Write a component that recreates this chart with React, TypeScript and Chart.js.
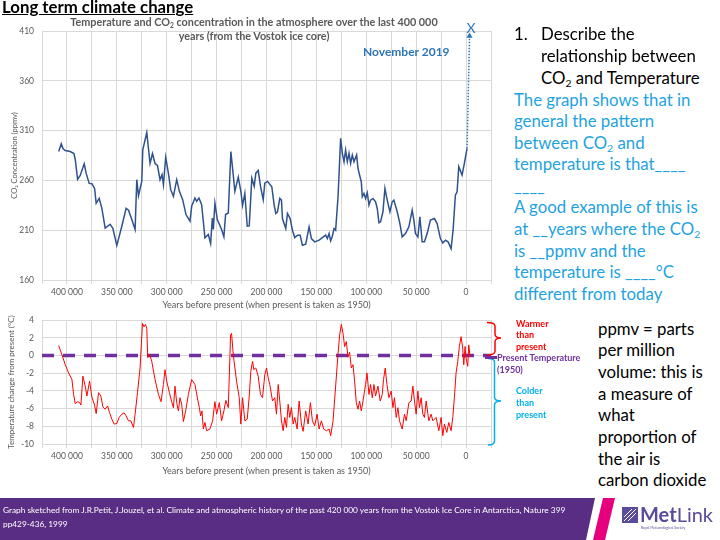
import React, { useEffect, useRef } from "react";
import { Chart, registerables } from "chart.js";
Chart.register(...registerables);

// ---------- DATA ----------
// CO2 record (thousand years before present, ppmv)
const co2Kyr = [408.3, 405.7, 404, 401.7, 396.7, 393, 391.7, 389.3, 386.7, 382.7, 380.7, 377.7, 375, 372.3, 370.7, 367.7, 365, 361.7, 356.7, 354, 350, 345, 340.7, 338.3, 335, 331.7, 330, 328.3, 325, 324, 320, 316.7, 314.3, 311.7, 309.3, 306.7, 304.7, 303.3, 301, 298.3, 296, 293.3, 290, 287.3, 284, 280.7, 276.7, 275, 271.7, 270, 267.7, 265, 261.7, 258.3, 256, 254.3, 253.3, 251.7, 249.3, 245, 242.7, 241, 238.3, 235.7, 231.7, 228.3, 225.7, 224, 221.7, 219.3, 217.3, 214.7, 212.3, 210.7, 208.3, 206, 203.3, 201.7, 199, 194.7, 192.3, 190.7, 189, 186.7, 185, 184, 180.7, 179, 176.3, 174, 171.7, 169, 166.3, 164, 160.7, 157.3, 155, 151.7, 147.3, 144, 140.7, 139, 137.3, 135.7, 134, 132.3, 130.7, 128.3, 125.7, 124, 122.3, 120.7, 119, 117.3, 115.7, 114, 112.3, 109.7, 108.3, 106.3, 105, 104, 102.3, 100.7, 99, 97.3, 95.7, 93.3, 90.7, 89, 87.3, 85.7, 83.3, 81.3, 79, 76.3, 74, 72.3, 69, 66.3, 64, 60.7, 57.3, 54, 52.3, 50.7, 48.3, 46.3, 44, 41.7, 39, 35.7, 31.7, 29, 25.7, 23.3, 20.7, 18, 15, 13, 10.7, 9, 7.3, 4, 1.7, -1];
const co2Ppmv = [289, 296.7, 292, 290, 289, 287, 281, 261, 265, 276.7, 267, 257, 256.7, 252, 237, 242, 232, 212, 216, 212, 194.7, 214, 232, 230, 220.7, 210.7, 260.7, 244.7, 259, 290.7, 308, 277, 287, 277, 275, 260.7, 265.7, 255.7, 283.3, 267, 250.7, 244, 260.7, 249, 240.7, 225.7, 219, 234, 242.3, 239, 242.3, 235.7, 202.3, 205.7, 196.7, 222.3, 210.7, 237.3, 220.7, 210.7, 203.3, 225.7, 227.3, 289, 249, 263.3, 249, 235, 247, 214, 214.3, 262.3, 254, 267.3, 270, 254, 240.7, 257.3, 259, 253.6, 235.2, 226.8, 228.5, 241.9, 240.2, 221.7, 211.7, 226.8, 221.7, 210, 202.6, 205, 205, 194.9, 195.9, 213.4, 201.6, 198.3, 200, 202.6, 205, 201.6, 206.6, 199.3, 204, 211.7, 210, 243.6, 302.3, 287.2, 278.8, 290.5, 278.8, 287.2, 277.1, 285.5, 278.8, 285.5, 272.1, 263.7, 258.7, 243.6, 246.9, 241.9, 247.6, 235.2, 240.2, 241.9, 238.5, 231.8, 217.4, 218.4, 228.5, 251.9, 240.2, 228.5, 238.5, 240.2, 228.5, 216.7, 203.3, 206.6, 213.4, 230.1, 220.1, 206.6, 203.3, 223.4, 198.3, 198.3, 206.6, 220.1, 221.7, 216.7, 201.6, 197.2, 199.9, 198.3, 191.5, 210, 245.2, 248.6, 273.8, 265.4, 277.1, 292.2];
// November 2019 extension
const arrowKyr = [-1, -3.5];
const arrowPpmv = [292.2, 405];

// Temperature change record (thousand years before present, °C)
const tempKyr = [408.3, 405, 401.7, 398.3, 395, 393.3, 391.7, 389.3, 387.3, 386, 384, 381.7, 380, 377.3, 375, 372.3, 370.7, 368.3, 366, 364, 361.7, 359.3, 357.3, 355, 352.7, 350, 347.7, 345, 342.7, 340.7, 338.3, 336, 333.3, 331.7, 329.3, 326.7, 324.3, 322.7, 321.3, 320, 319, 317.3, 315, 311.7, 308.3, 305.7, 303.3, 301.7, 300, 297.3, 295, 293.3, 291.7, 290, 288.3, 286.7, 285, 283.3, 281, 278.3, 275, 271.7, 269.3, 267.3, 266, 264.7, 263.3, 261.7, 260, 256.7, 254, 251.7, 250, 247.3, 245, 242.7, 240.7, 238.3, 236, 235, 233.3, 230, 227.3, 225.7, 224, 221.7, 219.3, 217.3, 215.7, 214, 212.7, 210.7, 208.3, 206, 204, 201.7, 200, 198.3, 196.7, 194, 191.7, 190, 188.3, 186.7, 185, 183.3, 181.7, 180, 178.3, 176.7, 175, 173.3, 171.7, 169.3, 167.3, 165, 163.3, 160.7, 158.3, 156, 154, 151.7, 149.3, 147.3, 145, 142.7, 140, 137.3, 135.7, 133.3, 130.7, 128.3, 126.7, 125, 123.3, 121.7, 120, 118.3, 116.7, 115, 113.3, 111.7, 110, 108.3, 106.7, 105, 103.3, 100.7, 99.3, 97.3, 95.7, 94, 92.3, 90.7, 88.3, 86, 84, 82.7, 81, 79.3, 77.3, 75, 73.3, 71.7, 70, 68.3, 66.7, 64, 61.7, 60, 57.3, 55, 53.3, 51.7, 50, 48.3, 46.7, 45, 43.3, 41.7, 40, 37.3, 35, 33.3, 30, 27.3, 25, 23.3, 21.7, 19.3, 17.3, 15, 13.3, 11.7, 10, 8.3, 6.7, 5, 3.3, 2.3, 1, 0, -1.7, -2.7, -4];
const tempC = [1.13, 0.08, -1.04, -1.97, -2.72, -4.4, -5.44, -5.22, -5.33, -5.6, -2.34, -3.46, -4.58, -2.9, -4.69, -5.6, -6.56, -4.2, -4.58, -5.81, -6.07, -5.7, -6.45, -7.19, -7.75, -7.68, -7.0, -6.63, -6.48, -6.82, -7.38, -7.38, -8.13, -6.63, -4.2, -1.41, 3.63, 3.25, 3.51, 3.07, -0.22, 0.16, -0.66, -2.72, -4.4, -5.22, -3.28, -1.6, -2.9, -4.2, -5.22, -5.89, -3.46, -5.33, -6.26, -4.77, -5.51, -7.46, -6.26, -4.4, -2.72, -3.28, -4.77, -5.89, -6.82, -6.26, -8.31, -7.57, -8.5, -8.31, -7.38, -5.22, -6.63, -5.33, -7.38, -6.26, -5.07, -5.89, 2.32, 2.5, 0.08, -2.9, -4.77, -7.75, -4.77, -7.38, -7.19, -4.58, -1.78, -0.66, -1.6, -1.41, -2.34, -4.4, -4.77, -2.16, -1.41, -2.53, -3.28, -5.14, -4.77, -6.63, -3.28, -5.14, -7.38, -8.5, -7.0, -8.13, -5.51, -7.0, -5.89, -7.75, -7.0, -8.31, -5.14, -7.75, -8.57, -6.26, -7.75, -5.33, -7.38, -7.94, -6.63, -8.31, -7.38, -8.31, -8.5, -8.31, -9.06, -7.38, -3.46, 0.19, 2.32, 3.51, 2.51, 1.01, 1.58, -0.19, 0.37, -1.41, -1.04, -2.9, -5.33, -6.07, -5.14, -6.26, -5.14, -3.28, -1.97, -4.4, -3.28, -4.77, -3.28, -4.58, -3.46, -5.14, -4.4, -2.72, -1.41, -3.28, -4.77, -4.02, -5.89, -4.77, -7.0, -5.89, -7.38, -8.31, -6.63, -7.38, -5.33, -5.14, -3.46, -5.14, -6.63, -4.02, -5.89, -4.77, -6.63, -7.0, -5.14, -7.38, -6.63, -7.38, -7.0, -8.5, -7.0, -9.06, -7.75, -8.69, -7.57, -8.5, -7.0, -4.77, -1.97, -0.66, 1.01, 2.13, 0.82, -1.04, 1.01, -0.29, -1.22, 1.2, -0.1];
// Present temperature (1950) reference
const presentKyr = [425, -25];
const presentC = [0, 0];

// Axis ticks
const yearsMin = -25000;
const yearsMax = 425000;
const yearsGridStep = 25000;
const yearsLabelStep = 50000;
const co2Min = 160, co2Max = 410, co2Step = 50;
const tempMin = -10, tempMax = 4, tempStep = 2;

// ---------- STYLE ----------
const FONT = "Lato, 'Open Sans', sans-serif";
const GRAY = "#595959";
const GRID = "#d9d9d9";
const BLUE_TXT = "#1FA3DF";
const BLUE_ARROW = "#2E75B6";

const fmtYears = (v: number) =>
  v % yearsLabelStep === 0 && v >= 0 && v <= 400000
    ? String(v).replace(/\B(?=(\d{3})+(?!\d))/g, " ")
    : "";

function xAxis(height: number, titleBottom: number) {
  return {
    type: "linear" as const,
    reverse: true,
    min: yearsMin,
    max: yearsMax,
    ticks: {
      stepSize: yearsGridStep,
      autoSkip: false,
      maxRotation: 0,
      color: GRAY,
      font: { family: FONT, size: 8.5 },
      padding: 3,
      callback: (v: any) => fmtYears(Number(v)),
    },
    grid: { color: GRID, tickLength: 4, tickColor: GRID },
    border: { color: GRID },
    title: {
      display: true,
      text: "Years before present (when present is taken as 1950)",
      color: GRAY,
      font: { family: FONT, size: 9 },
      padding: { top: 0, bottom: titleBottom },
    },
    afterFit: (s: any) => {
      s.height = height;
    },
  };
}

function yAxis(min: number, max: number, step: number, title: string, titleLeft: number, size: number) {
  return {
    min,
    max,
    ticks: { stepSize: step, color: GRAY, font: { family: FONT, size: 8.5 }, padding: 8 },
    grid: { color: GRID, drawTicks: false },
    border: { display: false },
    title: {
      display: true,
      text: title,
      color: GRAY,
      font: { family: FONT, size },
      padding: { top: titleLeft, bottom: 0 },
    },
    afterFit: (s: any) => {
      s.width = 42;
    },
  };
}

function CO2Chart() {
  const ref = useRef<HTMLCanvasElement>(null);
  useEffect(() => {
    const chart = new Chart(ref.current!, {
      type: "line",
      data: {
        datasets: [
          {
            data: co2Kyr.map((k, i) => ({ x: k * 1000, y: co2Ppmv[i] })),
            borderColor: "#2F528F",
            borderWidth: 1.5,
            pointRadius: 0,
            tension: 0,
          },
          {
            data: arrowKyr.map((k, i) => ({ x: k * 1000, y: arrowPpmv[i] })),
            borderColor: BLUE_ARROW,
            borderWidth: 1.5,
            borderDash: [1.5, 1.5],
            pointRadius: [0, 3.5],
            pointStyle: "triangle",
            pointBackgroundColor: BLUE_ARROW,
            pointBorderColor: BLUE_ARROW,
            pointBorderWidth: 0,
          },
        ],
      },
      options: {
        animation: false,
        responsive: false,
        events: [],
        layout: { padding: { top: 31, left: 0, right: 9, bottom: 0 } },
        plugins: { legend: { display: false }, tooltip: { enabled: false } },
        scales: {
          x: xAxis(32, 1.5) as any,
          y: yAxis(co2Min, co2Max, co2Step, "CO₂ Concentration (ppmv)", 10, 7.5) as any,
        },
      },
    });
    return () => chart.destroy();
  }, []);
  return (
    <canvas ref={ref} width={500} height={312} style={{ position: "absolute", left: 0, top: 0, width: 500, height: 312 }} />
  );
}

function TempChart() {
  const ref = useRef<HTMLCanvasElement>(null);
  useEffect(() => {
    const chart = new Chart(ref.current!, {
      type: "line",
      data: {
        datasets: [
          {
            data: tempKyr.map((k, i) => ({ x: k * 1000, y: tempC[i] })),
            borderColor: "#FF0000",
            borderWidth: 1,
            pointRadius: 0,
            tension: 0,
          },
          {
            data: presentKyr.map((k, i) => ({ x: k * 1000, y: presentC[i] })),
            borderColor: "#7030A0",
            borderWidth: 3.5,
            borderDash: [12, 9],
            pointRadius: 0,
          },
        ],
      },
      options: {
        animation: false,
        responsive: false,
        events: [],
        layout: { padding: { top: 0, left: 0, right: 9, bottom: 0 } },
        plugins: { legend: { display: false }, tooltip: { enabled: false } },
        scales: {
          x: xAxis(36, 3.5) as any,
          y: yAxis(tempMin, tempMax, tempStep, "Temperature change from present (°C)", 7, 8) as any,
        },
      },
    });
    return () => chart.destroy();
  }, []);
  // canvas starts a little higher: the y-axis tick padding reserves ~13px above the plot
  return (
    <canvas ref={ref} width={500} height={173} style={{ position: "absolute", left: 0, top: 307, width: 500, height: 173 }} />
  );
}

const Sub = () => (
  <sub style={{ fontSize: "0.62em", verticalAlign: "-0.3em", lineHeight: 0 }}>2</sub>
);

function Line(props: { x: number; y: number; size: number; color: string; bold?: boolean; children: any; lh?: number }) {
  const lh = props.lh ?? props.size * 1.3;
  return (
    <div
      style={{
        position: "absolute",
        left: props.x,
        top: props.y - lh / 2,
        lineHeight: lh + "px",
        fontSize: props.size,
        color: props.color,
        fontWeight: props.bold ? 700 : 400,
        whiteSpace: "nowrap",
        fontFamily: FONT,
      }}
    >
      {props.children}
    </div>
  );
}

export default function App() {
  const q = 16.8;
  return (
    <div style={{ position: "fixed", left: 0, top: 0, width: 720, height: 540, background: "#fff", overflow: "hidden", fontFamily: FONT }}>
      <CO2Chart />
      <TempChart />

      {/* Slide title */}
      <Line x={2} y={7} size={16.8} color="#000" bold>
        <span style={{ textDecoration: "underline" }}>Long term climate change</span>
      </Line>

      {/* Chart title */}
      <div style={{ position: "absolute", left: 40, top: 14.5, width: 428, textAlign: "center", fontFamily: FONT, fontWeight: 700, fontSize: 10.8, lineHeight: "14.5px", color: GRAY, whiteSpace: "nowrap" }}>
        Temperature and CO<Sub /> concentration in the atmosphere over the last 400 000
        <br />
        years (from the Vostok ice core)
      </div>

      <Line x={466.5} y={28} size={14} color={BLUE_ARROW}>X</Line>
      <Line x={363} y={52} size={12} color={BLUE_ARROW} bold>November 2019</Line>

      {/* Right-hand question text */}
      <Line x={514} y={34} size={q} color="#000">1.</Line>
      <Line x={541} y={34} size={q} color="#000">Describe the</Line>
      <Line x={541} y={56} size={q} color="#000">relationship between</Line>
      <Line x={541} y={78} size={q} color="#000">CO<Sub /> and Temperature</Line>
      <Line x={514} y={99.5} size={q} color={BLUE_TXT}>The graph shows that in</Line>
      <Line x={514} y={121} size={q} color={BLUE_TXT}>general the pattern</Line>
      <Line x={514} y={143} size={q} color={BLUE_TXT}>between CO<Sub /> and</Line>
      <Line x={514} y={164} size={q} color={BLUE_TXT}>temperature is that____</Line>
      <Line x={514} y={186} size={q} color={BLUE_TXT}>____</Line>
      <Line x={514} y={207} size={q} color={BLUE_TXT}>A good example of this is</Line>
      <Line x={514} y={229} size={q} color={BLUE_TXT}>at __years where the CO<Sub /></Line>
      <Line x={514} y={250.5} size={q} color={BLUE_TXT}>is __ppmv and the</Line>
      <Line x={514} y={272} size={q} color={BLUE_TXT}>temperature is ____°C</Line>
      <Line x={514} y={293.5} size={q} color={BLUE_TXT}>different from today</Line>

      {/* ppmv definition */}
      {["ppmv = parts", "per million", "volume: this is", "a measure of", "what", "proportion of", "the air is", "carbon dioxide"].map((t, i) => (
        <Line key={t} x={598} y={328.5 + i * 21.7} size={q} color="#000">{t}</Line>
      ))}

      {/* Brackets and footer shapes */}
      <svg width={720} height={540} style={{ position: "absolute", left: 0, top: 0, pointerEvents: "none" }}>
        <path d="M487 322.5 Q495 322.5 495 326 L495 334 Q495 338 501 338 Q495 338 495 342 L495 351 Q495 355 487 355" fill="none" stroke="#FF0000" strokeWidth={1.5} />
        <path d="M488 358.5 Q494.5 358.5 494.5 362 L494.5 397 Q494.5 401 501 401 Q494.5 401 494.5 405 L494.5 441 Q494.5 445 488 445" fill="none" stroke="#00B0F0" strokeWidth={1.5} />
        <line x1={485} y1={357.5} x2={497} y2={357.5} stroke="#7030A0" strokeWidth={3} />
        <polygon points="0,498 595,498 586,540 0,540" fill="#582D83" />
        <polygon points="603,498 615,498 605,540 593,540" fill="#E6007E" />
        <rect x={622} y={507} width={16} height={16} fill="#5B4B9B" />
        <path d="M624 521 L636 509 M624 517 L632 509 M628 521 L636 513" stroke="#fff" strokeWidth={1} />
      </svg>

      <Line x={516} y={323.5} size={9} color="#FF0000" bold lh={12}>Warmer</Line>
      <Line x={516} y={335} size={9} color="#FF0000" bold lh={12}>than</Line>
      <Line x={516} y={347} size={9} color="#FF0000" bold lh={12}>present</Line>
      <Line x={497} y={358} size={9} color="#7030A0" bold lh={12}>Present Temperature</Line>
      <Line x={497} y={370} size={9} color="#7030A0" bold lh={12}>(1950)</Line>
      <Line x={516} y={390.5} size={9} color="#00B0F0" bold lh={12}>Colder</Line>
      <Line x={516} y={402.5} size={9} color="#00B0F0" bold lh={12}>than</Line>
      <Line x={516} y={415} size={9} color="#00B0F0" bold lh={12}>present</Line>

      {/* Footer */}
      <Line x={3} y={510} size={8.3} color="#fff" lh={11}>
        Graph sketched from J.R.Petit, J.Jouzel, et al. Climate and atmospheric history of the past 420 000 years from the Vostok Ice Core in Antarctica, Nature 399
      </Line>
      <Line x={3} y={524} size={8.3} color="#fff" lh={11}>pp429-436, 1999</Line>
      <Line x={640} y={514} size={20} color="#5B4B9B" bold lh={22}>
        Met<span style={{ fontWeight: 400 }}>Link</span>
      </Line>
      <Line x={641} y={528} size={3.5} color="#5B4B9B" lh={5}>Royal Meteorological Society</Line>
    </div>
  );
}
